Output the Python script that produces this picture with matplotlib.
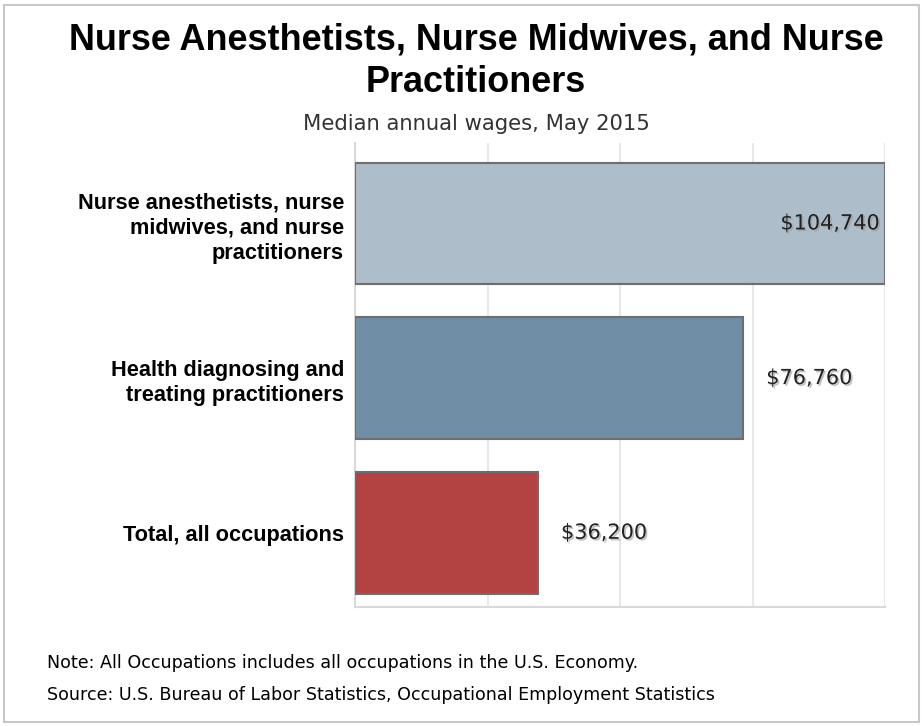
import matplotlib.pyplot as plt
import matplotlib.patheffects as pe
from matplotlib.patches import Rectangle

# data
categories = ["Nurse anesthetists, nurse\nmidwives, and nurse\npractitioners",
              "Health diagnosing and\ntreating practitioners",
              "Total, all occupations"]
wages = [104740, 76760, 36200]
value_labels = ["$104,740", "$76,760", "$36,200"]
colors = ['#adbdc9', '#708ea5', '#b34343']

fig = plt.figure(figsize=(9.24, 7.26), dpi=100)
ax = fig.add_axes([355/924, 1 - 607/726, 530/924, 464/726])

ypos = list(range(len(wages)))
ax.barh(ypos, wages, height=0.787, color=colors, edgecolor='#6e6e6e', linewidth=1.5, zorder=3)
ax.set_xlim(0, max(wages))
ax.set_ylim(2.48, -0.52)

# grid lines at quarters
ax.set_xticks([max(wages) * i / 4 for i in range(5)])
ax.tick_params(axis='x', length=0, labelbottom=False)
ax.tick_params(axis='y', length=0, pad=8)
ax.grid(axis='x', color='#e8e8e8', linewidth=1.5, zorder=0)
ax.set_yticks(ypos)
ax.set_yticklabels(categories, fontsize=15.7, fontweight='bold', family='Liberation Sans',
                   linespacing=1.27, ha='right')
for s in ['top', 'right']:
    ax.spines[s].set_visible(False)
for s in ['left', 'bottom']:
    ax.spines[s].set_color('#d9d9d9')
    ax.spines[s].set_linewidth(1.5)

shadow = [pe.withSimplePatchShadow(offset=(1.2, -1.2), shadow_rgbFace='#999999', alpha=0.6)]
for i, (w, lab) in enumerate(zip(wages, value_labels)):
    if i == 0:
        ax.text(w - 0.01 * max(wages), i, lab, ha='right', va='center', fontsize=15,
                color='#222222', path_effects=shadow, zorder=5)
    else:
        ax.text(w + 0.043 * max(wages), i, lab, ha='left', va='center', fontsize=15,
                color='#222222', path_effects=shadow, zorder=5)

# titles
fig.text(476/924, 1 - 40/726, "Nurse Anesthetists, Nurse Midwives, and Nurse",
         ha='center', va='center', fontsize=25.9, fontweight='bold', family='Liberation Sans')
fig.text(476/924, 1 - 82/726, "Practitioners",
         ha='center', va='center', fontsize=25.9, fontweight='bold', family='Liberation Sans')
fig.text(476/924, 1 - 124/726, "Median annual wages, May 2015",
         ha='center', va='center', fontsize=15.2, color='#333333')

# notes
fig.text(47/924, 1 - 663/726, "Note: All Occupations includes all occupations in the U.S. Economy.",
         ha='left', va='center', fontsize=12.6)
fig.text(47/924, 1 - 695/726, "Source: U.S. Bureau of Labor Statistics, Occupational Employment Statistics",
         ha='left', va='center', fontsize=12.6)

# outer frame
fig.patches.append(Rectangle((4/924, 4/726), 915/924, 717/726, transform=fig.transFigure,
                             fill=False, edgecolor='#c8c8c8', linewidth=1.5))

fig.savefig('out.png', dpi=100)
